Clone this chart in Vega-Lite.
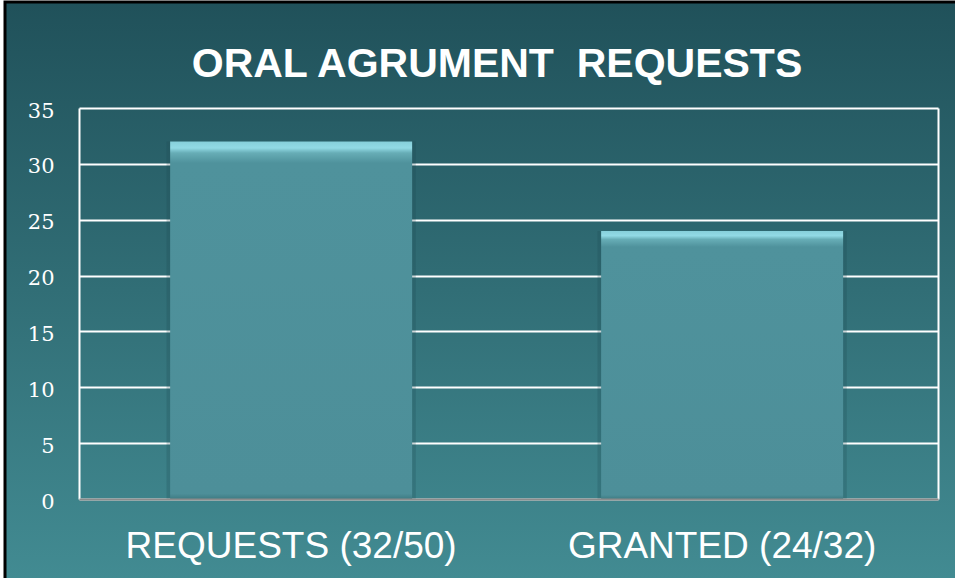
{
  "$schema": "https://vega.github.io/schema/vega-lite/v6.json",
  "autosize": {"type": "none"},
  "width": 950,
  "height": 576,
  "padding": {"left": 5, "top": 2, "right": 0, "bottom": 0},
  "background": "white",
  "view": {
    "fill": {"gradient": "linear", "x1": 0, "y1": 0, "x2": 0, "y2": 1, "stops": [{"offset": 0, "color": "#20515a"}, {"offset": 1, "color": "#428b92"}]},
    "stroke": "black",
    "strokeWidth": 3,
    "strokeDash": [950, 1526, 576]
  },
  "title": {
    "text": "ORAL AGRUMENT\u00a0 REQUESTS",
    "frame": "group",
    "anchor": "middle",
    "orient": "top",
    "offset": -116,
    "baseline": "alphabetic",
    "dx": 17,
    "font": "Liberation Sans",
    "fontSize": 41,
    "fontWeight": "bold",
    "color": "white"
  },
  "data": {
    "values": [
      {"category": "REQUESTS (32/50)", "value": 32},
      {"category": "GRANTED (24/32)", "value": 24}
    ]
  },
  "encoding": {
    "x": {
      "field": "category",
      "type": "nominal",
      "sort": null,
      "scale": {"range": [74, 933], "paddingInner": 0.4385, "paddingOuter": 0.2158, "align": 0.49},
      "axis": {
        "orient": "bottom",
        "offset": -79,
        "title": null,
        "domain": true,
        "domainColor": "#8c8c8c",
        "domainWidth": 2,
        "ticks": false,
        "grid": false,
        "labelAngle": 0,
        "labelFont": "Liberation Sans",
        "labelFontSize": 37,
        "labelColor": "white",
        "labelBaseline": "alphabetic",
        "labelPadding": 58,
        "labelLimit": 600,
        "zindex": 1
      }
    }
  },
  "layer": [
    {
      "mark": {"type": "bar", "fill": "#1b464c", "opacity": 0.22, "width": {"band": 1.03}},
      "encoding": {
        "y": {
          "field": "value",
          "type": "quantitative",
          "scale": {"domain": [0, 35], "range": [497, 106], "nice": false, "zero": true},
          "axis": {
            "orient": "left",
            "offset": -74,
            "title": null,
            "values": [0, 5, 10, 15, 20, 25, 30, 35],
            "domain": true,
            "domainColor": "white",
            "domainWidth": 2,
            "grid": true,
            "gridColor": "white",
            "gridWidth": 2,
            "gridOpacity": 1,
            "ticks": false,
            "labelPadding": 25,
            "labelFont": "DejaVu Serif",
            "labelFontSize": 21,
            "labelColor": "white",
            "labelBaseline": "middle",
            "labelOffset": 3
          }
        }
      }
    },
    {
      "mark": {
        "type": "bar",
        "fill": {
          "gradient": "linear", "x1": 0, "y1": 0, "x2": 0, "y2": 1,
          "stops": [
            {"offset": 0, "color": "#86cfda"},
            {"offset": 0.018, "color": "#92dae5"},
            {"offset": 0.032, "color": "#67adb6"},
            {"offset": 0.06, "color": "#4f929c"},
            {"offset": 0.985, "color": "#4d8f99"},
            {"offset": 1, "color": "#3e7b83"}
          ]
        }
      },
      "encoding": {
        "y": {
          "field": "value",
          "type": "quantitative",
          "axis": {
            "orient": "right",
            "offset": -17,
            "title": null,
            "domain": true,
            "domainColor": "white",
            "domainWidth": 2,
            "grid": false,
            "ticks": false,
            "labels": false
          }
        }
      }
    }
  ],
  "resolve": {"axis": {"y": "independent"}}
}
